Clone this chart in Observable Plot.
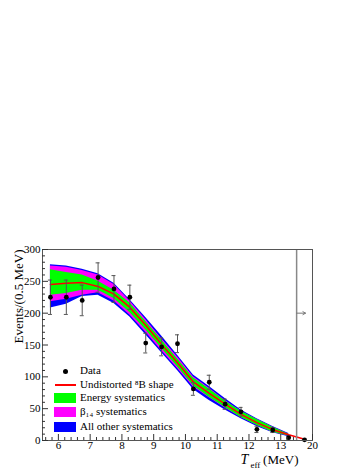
<!DOCTYPE html>
<html><head><meta charset="utf-8">
<script src="https://cdn.jsdelivr.net/npm/d3@7"></script>
<script src="https://cdn.jsdelivr.net/npm/@observablehq/plot@0.6"></script>
<style>
body{margin:0;background:#fff;}
#wrap{position:relative;width:364px;height:471px;font-family:"Liberation Serif","Times New Roman",serif;}
#wrap svg{position:absolute;left:0;top:0;}
.lg{position:absolute;font-size:11px;line-height:11px;color:#000;white-space:nowrap;}
.sw{position:absolute;}
</style></head>
<body><div id="wrap"></div>
<script>
// bin centres (MeV); last bin is the overflow 13.5-20 MeV drawn as 13.5-14
const binCenters = [5.75,6.25,6.75,7.25,7.75,8.25,8.75,9.25,9.75,10.25,10.75,11.25,11.75,12.25,12.75,13.25,13.75];
const counts     = [225,225,220,256,238,225,153,147,152,81,91.5,57,45,17.5,16.5,4.5,1];
const errors     = [27,27,24,23,21,19,15.5,14,14,10,11,8,7,5,4,2,1];
// undistorted 8B shape
const shapeY     = [245,247,248,242,230,209,181,151,122,92,74,57,41,28,17,9,2];
// systematic bands (first 16 bins)
const bandX   = binCenters.slice(0,16);
const blueLo  = [208,214,226,228,215,194,166,138,110,80,63,48,34,22,12,6];
const blueHi  = [276,274,269,262,247,221,193,164,134,103,85,66,48,34,22,11];
const magLo   = [218,222,228,232,219,197,170,141,113,84,67,51,36,24,13,7];
const magHi   = [274,272,267,260,245,219,190,160,131,100,82,63,46,33,21,10];
const greenLo = [228,231,236,236,223,201,174,145,116,86,68,52,36,24,13,7];
const greenHi = [268,264,260,250,236,216,187,158,128,98,81,62,46,33,21,10];
// axes
const xTickValues = [6,7,8,9,10,11,12,13,14];
const xTickLabels = ["6","7","8","9","10","11","12","13","20"];
const xMinor = d3.range(56,135,2).map(v=>v/10).filter(v=>!Number.isInteger(v));
const yTickValues = [0,50,100,150,200,250,300];
const yMinor = d3.range(0,301,10).filter(v=>v%50!==0);
const overflowEdge = [13.5];
const overflowArrow = [{x1:13.5,x2:13.78,y:200}];
const yLabel = "Events/(0.5 MeV)";
const legendItems = [
  {label:"Data", kind:"dot", color:"#000"},
  {label:"Undistorted \u2078B shape", kind:"line", color:"#ff0000"},
  {label:"Energy systematics", kind:"box", color:"#00ff00"},
  {label:"\u03B2\u2081\u2084 systematics", kind:"box", color:"#ff00ff"},
  {label:"All other systematics", kind:"box", color:"#0000ff"}
];

const data = binCenters.map((x,i)=>({x, y:counts[i], lo:counts[i]-errors[i], hi:counts[i]+errors[i]}));
const shape = binCenters.map((x,i)=>({x, y:shapeY[i]}));
const band = bandX.map((x,i)=>({x, bl:blueLo[i], bh:blueHi[i], ml:magLo[i], mh:magHi[i], gl:greenLo[i], gh:greenHi[i]}));

const font = '"Liberation Serif","Times New Roman",serif';
const axisGray = "#333";

const chart = Plot.plot({
  width:364, height:471,
  marginTop:249, marginBottom:31, marginLeft:42, marginRight:52,
  x:{domain:[5.5,14]},
  y:{domain:[0,300]},
  style:{fontFamily:font, fontSize:"11px", background:"white", color:"#000"},
  marks:[
    Plot.areaY(band,{x:"x", y1:"bl", y2:"bh", fill:"#0000ff"}),
    Plot.areaY(band,{x:"x", y1:"ml", y2:"mh", fill:"#ff00ff"}),
    Plot.areaY(band,{x:"x", y1:"gl", y2:"gh", fill:"#00ff00"}),
    Plot.line(shape,{x:"x", y:"y", stroke:"#ff0000", strokeWidth:1.5}),
    Plot.ruleX(data,{x:"x", y1:"lo", y2:"hi", stroke:"#555", strokeWidth:1}),
    Plot.ruleY(data,{y:"hi", x1:"x", x2:"x", insetLeft:-2, insetRight:-2, stroke:"#555"}),
    Plot.ruleY(data,{y:"lo", x1:"x", x2:"x", insetLeft:-2, insetRight:-2, stroke:"#555"}),
    Plot.dot(data,{x:"x", y:"y", r:2.4, fill:"#000"}),
    Plot.ruleX(overflowEdge,{x:d=>d, stroke:"#888", strokeWidth:1.5}),
    Plot.arrow(overflowArrow,{x1:"x1", x2:"x2", y1:"y", y2:"y", stroke:"#777", headLength:5, strokeWidth:1}),
    Plot.frame({stroke:"#555"}),
    Plot.axisX(xTickValues,{tickSize:-6, tickPadding:7, tickFormat:(d,i)=>xTickLabels[i], label:null, stroke:axisGray, fontSize:11}),
    Plot.axisX(xMinor,{tickSize:-3, tickFormat:()=>"", label:null, stroke:axisGray}),
    Plot.axisY(yTickValues,{tickSize:-6, tickPadding:8, label:null, stroke:axisGray, fontSize:11}),
    Plot.axisY(yMinor,{tickSize:-3, tickFormat:()=>"", label:null, stroke:axisGray}),
    Plot.text([yLabel],{frameAnchor:"top-left", text:d=>d, rotate:-90, textAnchor:"end", dx:-29, fontSize:13}),
    Plot.text(["(MeV)"],{frameAnchor:"bottom-right", text:d=>d, textAnchor:"end", dx:-14, dy:23, fontSize:13}),
    Plot.text(["T"],{frameAnchor:"bottom-right", text:d=>d, textAnchor:"middle", dx:-68, dy:23, fontSize:14, fontStyle:"italic"}),
    Plot.text(["eff"],{frameAnchor:"bottom-right", text:d=>d, textAnchor:"start", dx:-62, dy:27, fontSize:9})
  ]
});
const wrap = document.getElementById("wrap");
wrap.appendChild(chart);

// legend (inside the plot frame, like the original)
const rowsY = [371,385,398,412,427];
legendItems.forEach((it,i)=>{
  const cy = rowsY[i];
  const sw = document.createElement("div");
  sw.className = "sw";
  if(it.kind==="dot"){
    Object.assign(sw.style,{left:"63px",top:(cy-2.5)+"px",width:"5px",height:"5px",borderRadius:"50%",background:it.color});
  } else if(it.kind==="line"){
    Object.assign(sw.style,{left:"55px",top:(cy-1)+"px",width:"21px",height:"1.5px",background:it.color});
  } else {
    Object.assign(sw.style,{left:"54px",top:(cy-5)+"px",width:"22px",height:"10px",background:it.color});
  }
  wrap.appendChild(sw);
  const t = document.createElement("div");
  t.className = "lg";
  t.textContent = it.label;
  Object.assign(t.style,{left:"80px",top:(cy-6)+"px"});
  wrap.appendChild(t);
});
</script>
</body></html>
